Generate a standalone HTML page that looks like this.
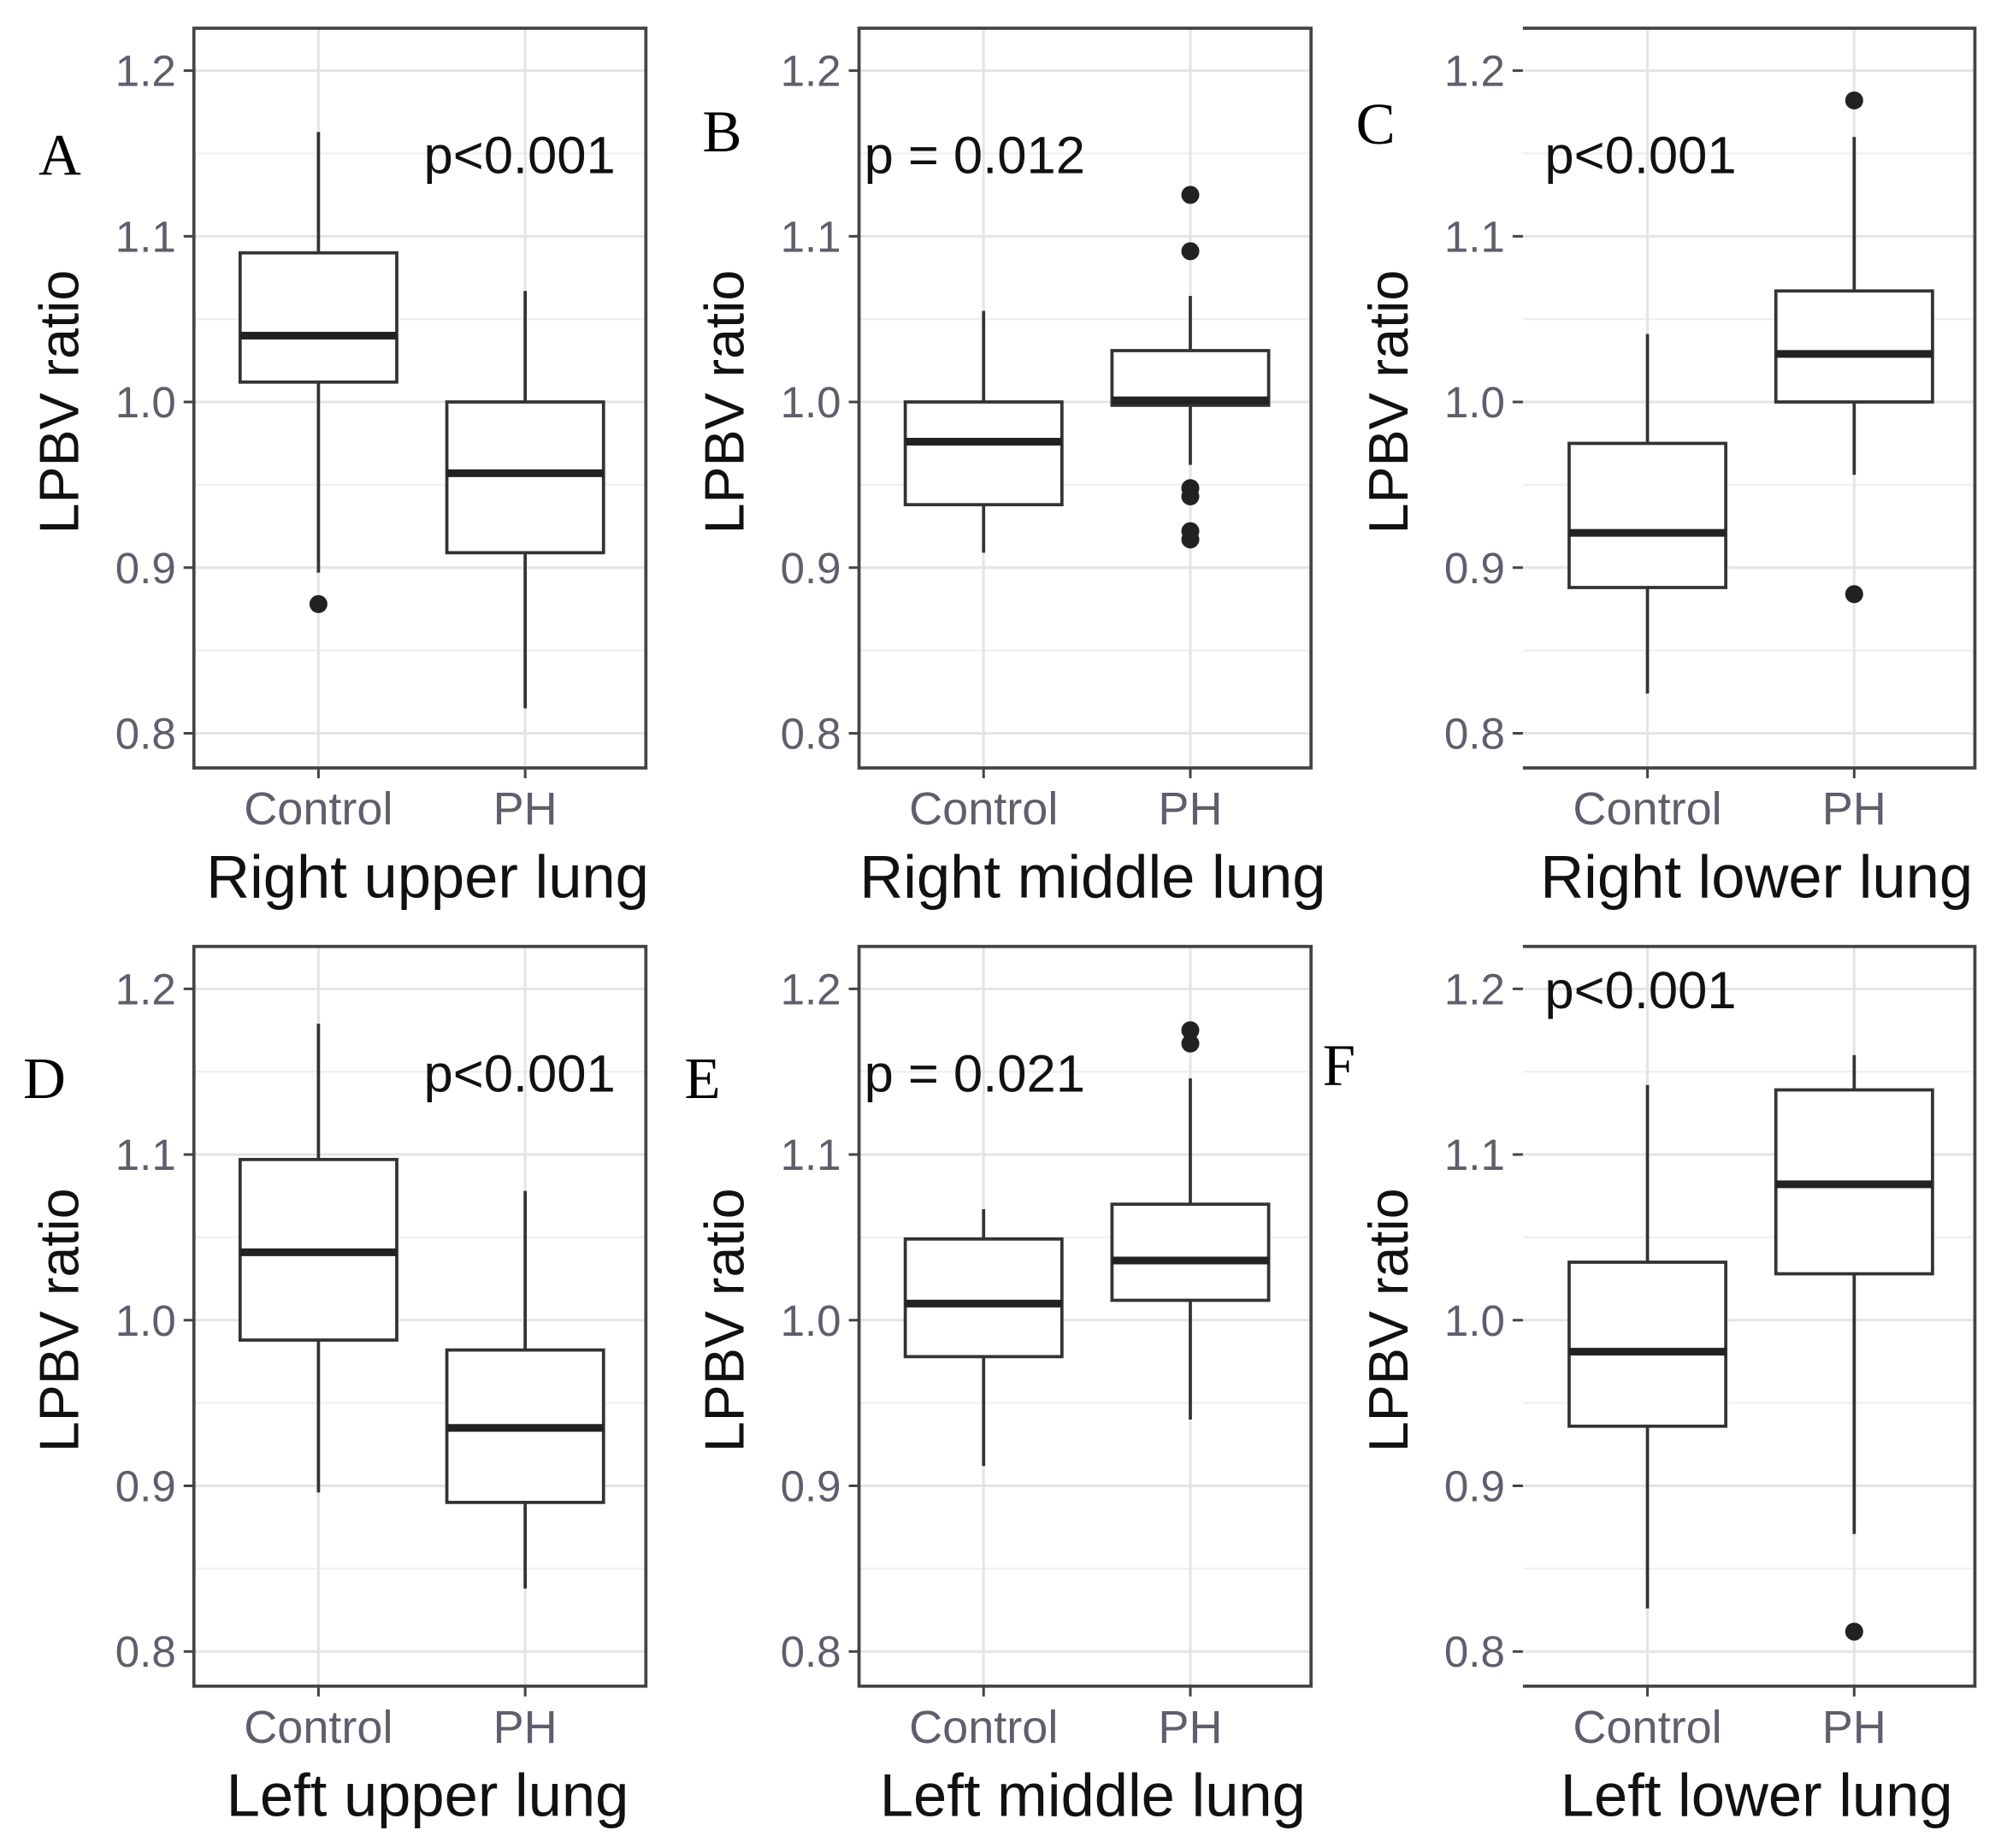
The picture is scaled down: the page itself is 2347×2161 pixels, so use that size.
<!DOCTYPE html>
<html><head><meta charset="utf-8"><style>
html,body{margin:0;padding:0;background:#fff;}
svg{display:block;}
</style></head><body>
<svg id="chart" width="2347" height="2161" viewBox="0 0 1563 1439" preserveAspectRatio="none" xmlns="http://www.w3.org/2000/svg"></svg>
<script>
// Data per panel (Control, PH): [lowerWhisker, q1, median, q3, upperWhisker]
const panelTitles = ["Right upper lung","Right middle lung","Right lower lung","Left upper lung","Left middle lung","Left lower lung"];
const panelLetters = ["A","B","C","D","E","F"];
const pValues = ["p<0.001","p = 0.012","p<0.001","p<0.001","p = 0.021","p<0.001"];
const categories = ["Control","PH"];
const yTicks = [0.8,0.9,1.0,1.1,1.2];
const yTickLabels = ["0.8","0.9","1.0","1.1","1.2"];
const controlStats = [
  [0.897,1.012,1.040,1.090,1.163],
  [0.909,0.938,0.976,1.000,1.055],
  [0.824,0.888,0.921,0.975,1.041],
  [0.896,0.988,1.041,1.097,1.179],
  [0.912,0.978,1.010,1.049,1.067],
  [0.826,0.936,0.981,1.035,1.142]
];
const phStats = [
  [0.815,0.909,0.957,1.000,1.067],
  [0.962,0.998,1.001,1.031,1.064],
  [0.956,1.000,1.029,1.067,1.160],
  [0.838,0.890,0.935,0.982,1.078],
  [0.940,1.012,1.036,1.070,1.146],
  [0.871,1.028,1.082,1.139,1.160]
];
const controlOutliers = [[0.878],[],[],[],[],[]];
const phOutliers = [[],[1.125,1.091,0.948,0.943,0.922,0.917],[1.182,0.884],[],[1.175,1.167],[0.812]];

const NS="http://www.w3.org/2000/svg";
const svg=document.getElementById('chart');
function mk(tag,attrs,parent){const e=document.createElementNS(NS,tag);for(const k in attrs)e.setAttribute(k,attrs[k]);(parent||svg).appendChild(e);return e;}

const colX=[151,669,1186], panelW=352;
const rowTop=[22,737], panelH=576;
const pLayout=[[330,135],[673,135],[1203,135],[330,850],[673,850],[1203,785]];
const letterPos=[[30,136],[547,118],[1056,112],[18,855],[533,855],[1030,845]];
for(let i=0;i<6;i++){
  const x0=colX[i%3], top=rowTop[Math.floor(i/3)], bottom=top+panelH, x1=x0+panelW;
  const y1_2=top+33;
  const yScale=v=>y1_2+(1.2-v)*1290;
  const xScale=c=>x0+97+c*161;
  const g=mk('g',{});
  
  
  for(let v=0.75; v<=1.2001; v+=0.05){
    const y=yScale(v); if(y<top||y>bottom)continue;
    const major=Math.abs(Math.round(v*10)-v*10)<1e-6;
    const l=mk('line',{x1:x0,x2:x1,y1:y,y2:y,stroke:major?'#e4e4e4':'#efefef','stroke-width':major?2:1.5},g);
    
    
  }
  for(let c=0;c<2;c++){
    const l=mk('line',{x1:xScale(c),x2:xScale(c),y1:top,y2:bottom,stroke:'#e4e4e4','stroke-width':2},g);
    
    
  }
  const hasLeft = (i%3)!==2;
  const fr=mk('path',{d:hasLeft?`M${x0} ${top}H${x1}V${bottom}H${x0}Z`:`M${x0} ${top}H${x1}V${bottom}H${x0}`,fill:'none',stroke:'#444','stroke-width':2.5},g);
  
  
  yTicks.forEach((v,k)=>{
    const y=yScale(v);
    const t=mk('line',{x1:x0-8,x2:x0,y1:y,y2:y,stroke:'#444','stroke-width':2},g);
    
    
    const tx=mk('text',{x:x0-14,y:y+12,'text-anchor':'end','font-size':34,fill:'#5e5e6c','font-family':'Liberation Sans, sans-serif'},g);
    tx.textContent=yTickLabels[k];
    
    
  });
  const yt=mk('text',{x:0,y:0,transform:`translate(${x0-90},${yScale(1.0)}) rotate(-90)`,'text-anchor':'middle','font-size':43,fill:'#111','font-family':'Liberation Sans, sans-serif'},g);
  yt.textContent='LPBV ratio';
  
  
  categories.forEach((c,k)=>{
    const x=xScale(k);
    const t=mk('line',{x1:x,x2:x,y1:bottom,y2:bottom+8,stroke:'#444','stroke-width':2},g);
    
    
    const tx=mk('text',{x:x,y:bottom+44,'text-anchor':'middle','font-size':36,fill:'#5e5e6c','font-family':'Liberation Sans, sans-serif'},g);
    tx.textContent=c;
    
    
  });
  const tt=mk('text',{x:x0+182,y:bottom+101,'text-anchor':'middle','font-size':47,fill:'#111','font-family':'Liberation Sans, sans-serif'},g);
  tt.textContent=panelTitles[i];
  
  
  [controlStats[i],phStats[i]].forEach((s,k)=>{
    const x=xScale(k), hw=61;
    const w1=mk('line',{x1:x,x2:x,y1:yScale(s[4]),y2:yScale(s[3]),stroke:'#333','stroke-width':2.5},g);
    
    
    const w2=mk('line',{x1:x,x2:x,y1:yScale(s[1]),y2:yScale(s[0]),stroke:'#333','stroke-width':2.5},g);
    
    
    const b=mk('rect',{x:x-hw,y:yScale(s[3]),width:hw*2,height:yScale(s[1])-yScale(s[3]),fill:'#fff',stroke:'#333','stroke-width':2.5},g);
    
    
    const m=mk('line',{x1:x-hw,x2:x+hw,y1:yScale(s[2]),y2:yScale(s[2]),stroke:'#222','stroke-width':6},g);
    
    
  });
  [controlOutliers[i],phOutliers[i]].forEach((arr,k)=>{
    arr.forEach(v=>{
      const c=mk('circle',{cx:xScale(k),cy:yScale(v),r:7,fill:'#222'},g);
      
      
    });
  });
  const p=mk('text',{x:pLayout[i][0],y:pLayout[i][1],'font-size':41,fill:'#111','font-family':'Liberation Sans, sans-serif'},g);
  p.textContent=pValues[i];
  
  
  const L=mk('text',{x:letterPos[i][0],y:letterPos[i][1],'font-size':46,fill:'#000','font-family':'Liberation Serif, serif'},g);
  L.textContent=panelLetters[i];
  
  
}
</script>
</body></html>
